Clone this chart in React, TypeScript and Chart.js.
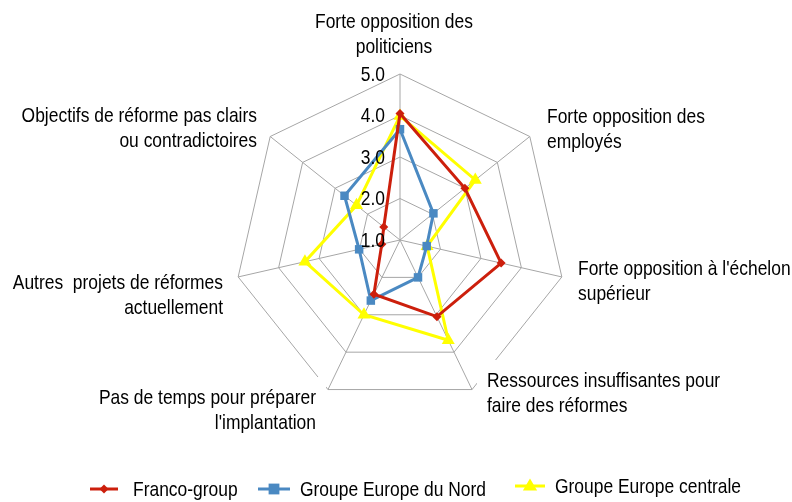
import { useEffect, useRef } from "react";
import { Chart, registerables } from "chart.js";

Chart.register(...registerables);

const categories: string[][] = [
  ["Forte opposition des", "politiciens"],
  ["Forte opposition des", "employés"],
  ["Forte opposition à l'échelon", "supérieur"],
  ["Ressources insuffisantes pour", "faire des réformes"],
  ["Pas de temps pour préparer", "l'implantation"],
  ["Autres  projets de réformes", "actuellement"],
  ["Objectifs de réforme pas clairs", "ou contradictoires"],
];
const seriesNames = ["Franco-group", "Groupe Europe du Nord", "Groupe Europe centrale"];
const francoGroup = [4.05, 3.0, 3.5, 3.05, 2.45, 1.45, 1.5];
const europeNord = [3.67, 2.03, 1.66, 2.0, 2.62, 2.01, 2.71];
const europeCentrale = [3.99, 3.32, 1.67, 3.68, 3.0, 3.35, 2.34];
const tickValues = [1, 2, 3, 4, 5];

const FONT = '"Liberation Sans", Arial, sans-serif';
const NARROW = 0.83;
const COLORS = ["#cc1f0c", "#4a89c2", "#ffff00"];
const STYLES = ["rectRot", "rect", "triangle"];
const RADII = [4.5, 6, 7.5];

// label placement relative to chart centre: [dx, dy of first line, align, opaque box]
const LABEL_LAYOUT: [number, number, CanvasTextAlign, boolean][] = [
  [-6, -218, "center", false],
  [147, -123, "left", false],
  [178, 29, "left", false],
  [87, 141, "left", true],
  [-84, 158, "right", true],
  [-177, 43, "right", false],
  [-143, -124, "right", false],
];

function narrowText(ctx: CanvasRenderingContext2D, t: string, x: number, y: number, align: CanvasTextAlign) {
  ctx.save();
  ctx.translate(x, y);
  ctx.scale(NARROW, 1);
  ctx.textAlign = align;
  ctx.textBaseline = "middle";
  ctx.fillText(t, 0, 0);
  ctx.restore();
}

function drawMarker(ctx: CanvasRenderingContext2D, style: string, x: number, y: number, r: number, color: string) {
  ctx.save();
  ctx.fillStyle = color;
  ctx.beginPath();
  if (style === "rectRot") {
    ctx.moveTo(x, y - r);
    ctx.lineTo(x + r, y);
    ctx.lineTo(x, y + r);
    ctx.lineTo(x - r, y);
  } else if (style === "rect") {
    ctx.rect(x - r * 0.9, y - r * 0.9, r * 1.8, r * 1.8);
  } else {
    ctx.moveTo(x, y - r);
    ctx.lineTo(x + r * 0.95, y + r * 0.6);
    ctx.lineTo(x - r * 0.95, y + r * 0.6);
  }
  ctx.closePath();
  ctx.fill();
  ctx.restore();
}

export default function App() {
  const ref = useRef<HTMLCanvasElement>(null);
  useEffect(() => {
    const canvas = ref.current!;
    const overlay = {
      id: "overlay",
      beforeDatasetsDraw(chart: any) {
        // white label boxes covering the grid, as in the original
        const ctx: CanvasRenderingContext2D = chart.ctx;
        const scale = chart.scales.r;
        const cx = scale.xCenter;
        const cy = scale.yCenter;
        ctx.save();
        ctx.font = `21px ${FONT}`;
        ctx.fillStyle = "#fff";
        categories.forEach((lines, i) => {
          const [dx, dy, align, opaque] = LABEL_LAYOUT[i];
          if (!opaque) return;
          const w = Math.max(...lines.map((t) => ctx.measureText(t).width)) * NARROW;
          const ax = cx + dx;
          const left = align === "left" ? ax : align === "right" ? ax - w : ax - w / 2;
          const top = cy + dy - 21;
          ctx.fillRect(left - 10, top, w + 20, 25 * lines.length + 18);
        });
        ctx.restore();
      },
      afterDatasetsDraw(chart: any) {
        const ctx: CanvasRenderingContext2D = chart.ctx;
        const scale = chart.scales.r;
        const cx = scale.xCenter;
        const cy = scale.yCenter;
        ctx.save();
        ctx.fillStyle = "#000";
        ctx.font = `21px ${FONT}`;
        // tick labels
        tickValues.forEach((v) => {
          const p = scale.getPointPositionForValue(0, v);
          narrowText(ctx, v.toFixed(1), p.x - 15, p.y + 1, "right");
        });
        // category labels
        categories.forEach((lines, i) => {
          const [dx, dy, align] = LABEL_LAYOUT[i];
          lines.forEach((t, j) => {
            narrowText(ctx, t, cx + dx, cy + dy + j * 25, align);
          });
        });
        // legend
        const items = [
          [90, 118, 133, 489],
          [258, 290, 300, 489],
          [515, 545, 555, 486],
        ];
        items.forEach(([x1, x2, tx, y], i) => {
          ctx.strokeStyle = COLORS[i];
          ctx.lineWidth = 3;
          ctx.beginPath();
          ctx.moveTo(x1, y);
          ctx.lineTo(x2, y);
          ctx.stroke();
          drawMarker(ctx, STYLES[i], (x1 + x2) / 2, y, RADII[i], COLORS[i]);
          ctx.fillStyle = "#000";
          narrowText(ctx, seriesNames[i], tx, y + 1, "left");
        });
        ctx.restore();
      },
    };
    const series = [francoGroup, europeNord, europeCentrale];
    const chart = new Chart(canvas, {
      type: "radar",
      data: {
        labels: categories.map((c) => c.join(" ")),
        datasets: series.map((d, i) => ({
          label: seriesNames[i],
          data: d,
          borderColor: COLORS[i],
          backgroundColor: COLORS[i],
          borderWidth: 3,
          fill: false,
          pointStyle: STYLES[i] as any,
          pointRadius: RADII[i],
          pointBackgroundColor: COLORS[i],
          pointBorderColor: COLORS[i],
          pointBorderWidth: 0,
          tension: 0,
        })),
      },
      options: {
        animation: false,
        responsive: false,
        devicePixelRatio: 1,
        layout: { padding: { left: 100, right: 92, top: 74, bottom: 96 } },
        plugins: { legend: { display: false }, tooltip: { enabled: false } },
        scales: {
          r: {
            min: 1,
            max: 5,
            ticks: { display: false, stepSize: 1 },
            grid: { color: "#a6a6a6", lineWidth: 1 },
            angleLines: { color: "#a6a6a6", lineWidth: 1 },
            pointLabels: { display: false },
          },
        },
      },
      plugins: [overlay],
    });
    return () => chart.destroy();
  }, []);
  return (
    <div style={{ position: "absolute", left: 0, top: 0, width: 792, height: 502, background: "#fff" }}>
      <canvas ref={ref} width={792} height={502} style={{ display: "block" }} />
    </div>
  );
}
